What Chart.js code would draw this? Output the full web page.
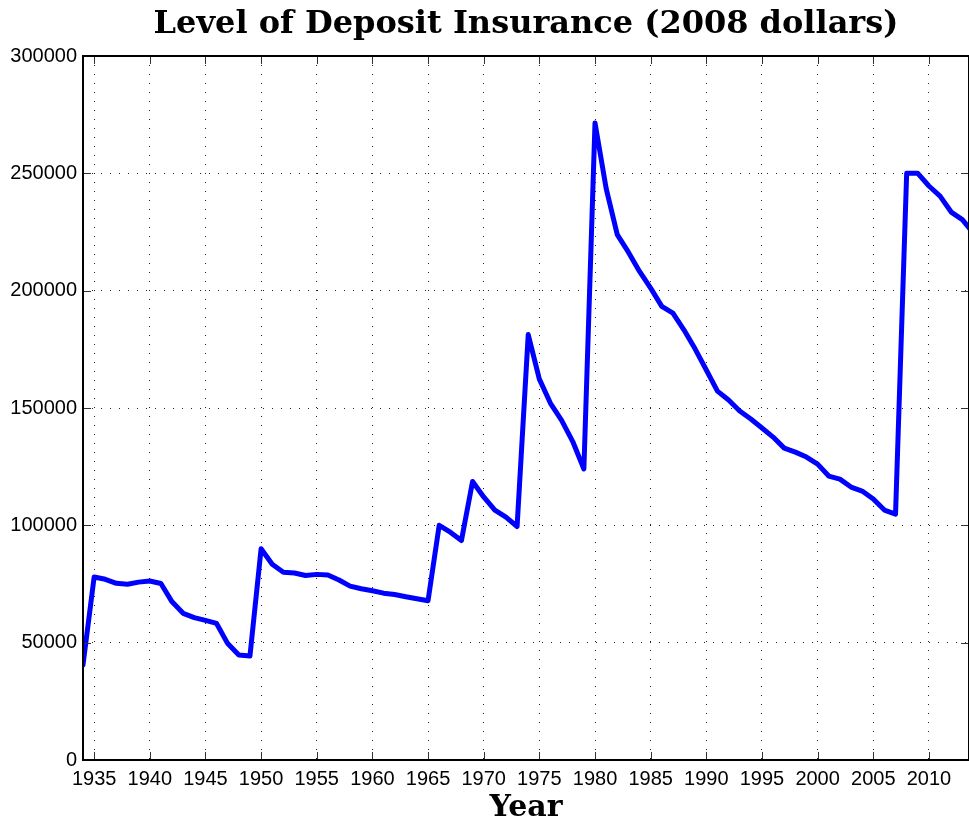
<!DOCTYPE html>
<html>
<head>
<meta charset="utf-8">
<script src="https://cdn.jsdelivr.net/npm/chart.js@4/dist/chart.umd.min.js"></script>
<style>
  html, body { margin: 0; padding: 0; background: #fff; }
  canvas { display: block; }
</style>
</head>
<body>
<canvas id="depositChart" width="969" height="823"></canvas>
<script>
// ---------- Data ----------
const years = [
  1934, 1935, 1936, 1937, 1938, 1939, 1940, 1941, 1942, 1943,
  1944, 1945, 1946, 1947, 1948, 1949, 1950, 1951, 1952, 1953,
  1954, 1955, 1956, 1957, 1958, 1959, 1960, 1961, 1962, 1963,
  1964, 1965, 1966, 1967, 1968, 1969, 1970, 1971, 1972, 1973,
  1974, 1975, 1976, 1977, 1978, 1979, 1980, 1981, 1982, 1983,
  1984, 1985, 1986, 1987, 1988, 1989, 1990, 1991, 1992, 1993,
  1994, 1995, 1996, 1997, 1998, 1999, 2000, 2001, 2002, 2003,
  2004, 2005, 2006, 2007, 2008, 2009, 2010, 2011, 2012, 2013,
  2014
];

// insured amount in 2008 dollars
const insurance = [
  40500, 78000, 77000, 75300, 74900, 75800, 76300, 75200, 67400, 62500,
  60700, 59500, 58200, 49600, 44700, 44300, 90000, 83400, 80000, 79700,
  78600, 79100, 78800, 76700, 74100, 73000, 72100, 71100, 70500, 69600,
  68700, 67900, 100000, 97100, 93500, 118700, 112100, 106500, 103500, 99500,
  181300, 162300, 152000, 144700, 135700, 124000, 271500, 243600, 223900, 216400,
  208200, 201100, 193300, 190400, 183200, 175100, 166200, 157200, 153400, 148700,
  145300, 141500, 137600, 132900, 131200, 129100, 126100, 121000, 119700, 116300,
  114600, 111200, 106500, 104800, 250000, 250000, 244600, 240300, 233500, 230300,
  224500
];

const xTicks = [1935, 1940, 1945, 1950, 1955, 1960, 1965, 1970, 1975, 1980, 1985, 1990, 1995, 2000, 2005, 2010];
const yTicks = [0, 50000, 100000, 150000, 200000, 250000, 300000];

const points = years.map((yr, i) => ({ x: yr, y: insurance[i] }));

// ---------- Frame + inward ticks (matlab style) ----------
const framePlugin = {
  id: "frame",
  afterDatasetsDraw(chart) {
    const { ctx, chartArea: a, scales } = chart;
    const x = scales.x, y = scales.y;
    ctx.save();
    ctx.strokeStyle = "#333";
    ctx.lineWidth = 1;
    ctx.beginPath();
    x.ticks.forEach(t => {
      const px = Math.round(x.getPixelForValue(t.value)) + 0.5;
      ctx.moveTo(px, a.bottom); ctx.lineTo(px, a.bottom - 8);
      ctx.moveTo(px, a.top); ctx.lineTo(px, a.top + 8);
    });
    y.ticks.forEach(t => {
      const py = Math.round(y.getPixelForValue(t.value)) + 0.5;
      ctx.moveTo(a.left, py); ctx.lineTo(a.left + 8, py);
      ctx.moveTo(a.right, py); ctx.lineTo(a.right - 8, py);
    });
    ctx.stroke();
    ctx.strokeStyle = "#000";
    ctx.lineWidth = 2;
    ctx.strokeRect(a.left, a.top, a.right - a.left, a.bottom - a.top);
    ctx.restore();
  }
};

// ---------- Chart ----------
const ctx = document.getElementById("depositChart").getContext("2d");

new Chart(ctx, {
  type: "line",
  data: {
    datasets: [
      {
        data: points,
        borderColor: "#0000ff",
        borderWidth: 5,
        borderJoinStyle: "round",
        borderCapStyle: "round",
        pointRadius: 0,
        tension: 0,
        fill: false,
      },
    ],
  },
  options: {
    responsive: false,
    animation: false,
    layout: { padding: { left: 0, right: 0, top: 0, bottom: 0 } },
    plugins: {
      legend: { display: false },
      tooltip: { enabled: false },
      title: {
        display: true,
        fullSize: false,
        text: "Level of Deposit Insurance (2008 dollars)",
        color: "#000",
        font: { family: "DejaVu Serif", size: 32, weight: "bold", lineHeight: 1.2 },
        padding: { top: 5, bottom: 12.6 },
      },
    },
    scales: {
      x: {
        type: "linear",
        min: 1934,
        max: 2013.6,
        afterFit(scale) { scale.height = 63; },
        afterBuildTicks(scale) { scale.ticks = xTicks.map(v => ({ value: v })); },
        ticks: {
          color: "#000",
          font: { family: "Liberation Sans", size: 20 },
          padding: 7,
          maxRotation: 0,
          autoSkip: false,
          callback: v => String(v),
        },
        grid: { drawTicks: false, color: "#222", lineWidth: 1 },
        border: { display: false, dash: [1, 8] },
        title: {
          display: true,
          text: "Year",
          color: "#000",
          font: { family: "DejaVu Serif", size: 30, weight: "bold", lineHeight: 1 },
          padding: { top: 0, bottom: 0 },
        },
      },
      y: {
        min: 0,
        max: 300000,
        afterFit(scale) { scale.width = 83; },
        afterBuildTicks(scale) { scale.ticks = yTicks.map(v => ({ value: v })); },
        ticks: {
          color: "#000",
          font: { family: "Liberation Sans", size: 20 },
          padding: 6,
          callback: v => String(v),
        },
        grid: { drawTicks: false, color: "#222", lineWidth: 1 },
        border: { display: false, dash: [1, 8] },
      },
    },
  },
  plugins: [framePlugin],
});
</script>
</body>
</html>
